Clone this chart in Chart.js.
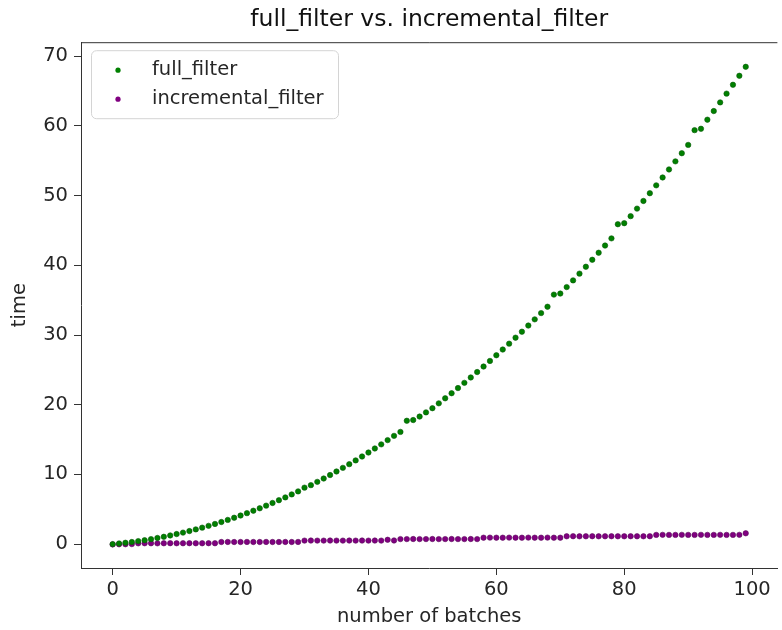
<!DOCTYPE html>
<html>
<head>
<meta charset="utf-8">
<script src="https://cdn.jsdelivr.net/npm/chart.js@4.4.0/dist/chart.umd.min.js"></script>
<style>
  html, body { margin: 0; padding: 0; background: #fff; }
</style>
</head>
<body>
<canvas id="chart" width="782" height="630"></canvas>
<script>
// values
const batches = [
  0, 1, 2, 3, 4, 5, 6, 7, 8, 9,
  10, 11, 12, 13, 14, 15, 16, 17, 18, 19,
  20, 21, 22, 23, 24, 25, 26, 27, 28, 29,
  30, 31, 32, 33, 34, 35, 36, 37, 38, 39,
  40, 41, 42, 43, 44, 45, 46, 47, 48, 49,
  50, 51, 52, 53, 54, 55, 56, 57, 58, 59,
  60, 61, 62, 63, 64, 65, 66, 67, 68, 69,
  70, 71, 72, 73, 74, 75, 76, 77, 78, 79,
  80, 81, 82, 83, 84, 85, 86, 87, 88, 89,
  90, 91, 92, 93, 94, 95, 96, 97, 98, 99,
];

const fullFilter = [
  0.00, 0.09, 0.19, 0.30, 0.43, 0.56, 0.71, 0.88, 1.05, 1.24,
  1.44, 1.65, 1.87, 2.11, 2.36, 2.62, 2.89, 3.17, 3.47, 3.78,
  4.10, 4.44, 4.79, 5.14, 5.52, 5.90, 6.30, 6.70, 7.13, 7.56,
  8.10, 8.46, 8.93, 9.41, 9.91, 10.42, 10.94, 11.47, 12.01, 12.57,
  13.14, 13.72, 14.31, 14.92, 15.53, 16.10, 17.70, 17.80, 18.30, 18.90,
  19.50, 20.20, 20.92, 21.65, 22.39, 23.14, 23.91, 24.69, 25.48, 26.28,
  27.10, 27.92, 28.76, 29.62, 30.48, 31.36, 32.25, 33.15, 34.06, 35.80,
  35.95, 36.88, 37.84, 38.81, 39.80, 40.80, 41.81, 42.84, 43.87, 45.90,
  46.05, 47.06, 48.14, 49.24, 50.35, 51.48, 52.61, 53.76, 54.92, 56.09,
  57.28, 59.40, 59.60, 60.90, 62.14, 63.38, 64.64, 65.91, 67.20, 68.49,
];

const incrementalFilter = [
  -0.05, -0.03, -0.02, 0.00, 0.11, 0.12, 0.12, 0.11, 0.12, 0.13,
  0.12, 0.12, 0.13, 0.12, 0.12, 0.13, 0.12, 0.30, 0.31, 0.30,
  0.30, 0.31, 0.30, 0.30, 0.31, 0.30, 0.30, 0.31, 0.30, 0.31,
  0.50, 0.51, 0.50, 0.50, 0.51, 0.50, 0.50, 0.51, 0.50, 0.51,
  0.50, 0.51, 0.50, 0.62, 0.52, 0.72, 0.72, 0.73, 0.72, 0.72,
  0.73, 0.72, 0.72, 0.73, 0.72, 0.72, 0.73, 0.72, 0.92, 0.93,
  0.92, 0.92, 0.93, 0.92, 0.92, 0.93, 0.92, 0.92, 0.93, 0.92,
  0.92, 1.12, 1.13, 1.12, 1.12, 1.13, 1.12, 1.12, 1.13, 1.12,
  1.12, 1.13, 1.12, 1.12, 1.13, 1.32, 1.33, 1.32, 1.32, 1.33,
  1.32, 1.32, 1.33, 1.32, 1.32, 1.33, 1.32, 1.32, 1.33, 1.55,
];

const xTicks = [0, 20, 40, 60, 80, 100];
const yTicks = [0, 10, 20, 30, 40, 50, 60, 70];

const FONT = 'DejaVu Sans';
const INK = '#262626';
const SPINE = '#333';

// top spine (left/bottom come from the scale borders)
const topSpine = {
  id: 'topSpine',
  afterDraw(chart) {
    const { ctx, chartArea } = chart;
    ctx.save();
    ctx.strokeStyle = SPINE;
    ctx.lineWidth = 1;
    ctx.beginPath();
    ctx.moveTo(chartArea.left, chartArea.top + 0.5);
    ctx.lineTo(chartArea.right, chartArea.top + 0.5);
    ctx.stroke();
    ctx.restore();
  },
};

// matplotlib-like legend box in the upper left of the axes
const legendBox = {
  id: 'legendBox',
  afterDatasetsDraw(chart) {
    const { ctx, chartArea } = chart;
    const x = chartArea.left + 10;
    const y = chartArea.top + 8;
    ctx.save();
    ctx.fillStyle = 'rgba(255,255,255,0.8)';
    ctx.strokeStyle = '#d4d4d4';
    ctx.lineWidth = 1;
    ctx.beginPath();
    ctx.roundRect(x + 0.5, y + 0.5, 247, 68, 5);
    ctx.fill();
    ctx.stroke();
    ctx.font = `19.5px "${FONT}"`;
    ctx.textBaseline = 'middle';
    chart.data.datasets.forEach((ds, i) => {
      const cy = y + 20 + i * 29;
      ctx.beginPath();
      ctx.arc(x + 27, cy, 2.6, 0, Math.PI * 2);
      ctx.fillStyle = ds.backgroundColor;
      ctx.fill();
      ctx.fillStyle = INK;
      ctx.fillText(ds.label, x + 61, cy);
    });
    ctx.restore();
  },
};

const toPoints = values => batches.map((b, i) => ({ x: b, y: values[i] }));

new Chart(document.getElementById('chart'), {
  type: 'scatter',
  data: {
    datasets: [
      {
        label: 'full_filter',
        data: toPoints(fullFilter),
        backgroundColor: '#008000',
        borderColor: '#0a5a0a',
        borderWidth: 0.6,
        pointRadius: 2.7,
      },
      {
        label: 'incremental_filter',
        data: toPoints(incrementalFilter),
        backgroundColor: '#800080',
        borderColor: '#5a0a5a',
        borderWidth: 0.6,
        pointRadius: 2.7,
      },
    ],
  },
  options: {
    responsive: false,
    animation: false,
    layout: { padding: 0 },
    plugins: {
      legend: { display: false },
      tooltip: { enabled: false },
      title: {
        display: true,
        text: 'full_filter vs. incremental_filter',
        fullSize: false,
        color: '#111',
        font: { family: FONT, size: 23.5, weight: 'normal' },
        padding: { top: 6, bottom: 8 },
      },
    },
    scales: {
      x: {
        type: 'linear',
        min: -4.95,
        max: 103.95,
        afterBuildTicks: s => { s.ticks = xTicks.map(v => ({ value: v })); },
        afterFit: s => { s.height = 62; },
        grid: { drawOnChartArea: false, tickLength: 7, color: SPINE },
        border: { color: SPINE, width: 1 },
        ticks: { color: INK, padding: 3, font: { family: FONT, size: 19.5 } },
        title: {
          display: true,
          text: 'number of batches',
          color: INK,
          font: { family: FONT, size: 19.5 },
          padding: { top: 0, bottom: 1 },
        },
      },
      y: {
        type: 'linear',
        min: -3.43,
        max: 72.02,
        afterBuildTicks: s => { s.ticks = yTicks.map(v => ({ value: v })); },
        afterFit: s => { s.width = 81; },
        grid: { drawOnChartArea: false, tickLength: 7, color: SPINE },
        border: { color: SPINE, width: 1 },
        ticks: { color: INK, padding: 6, font: { family: FONT, size: 19.5 } },
        title: {
          display: true,
          text: 'time',
          color: INK,
          font: { family: FONT, size: 19.5 },
          padding: { top: 8, bottom: 0 },
        },
      },
    },
  },
  plugins: [topSpine, legendBox],
});
</script>
</body>
</html>
